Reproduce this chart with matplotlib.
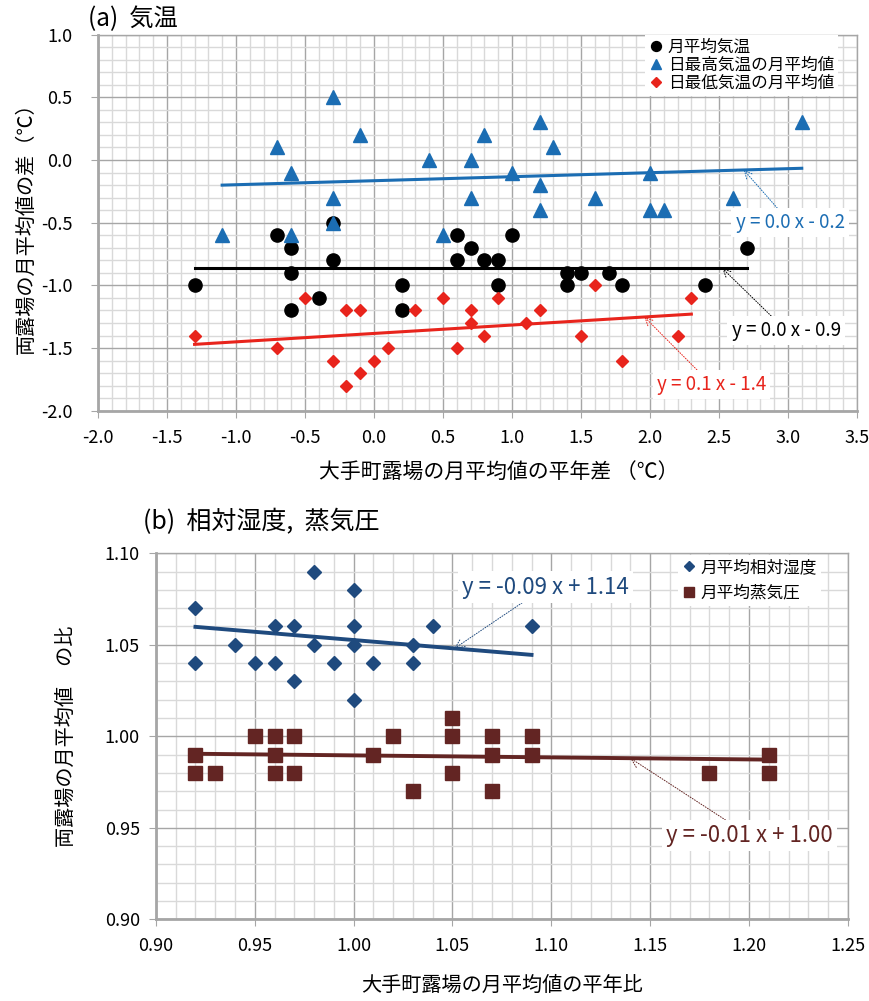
import numpy as np
import matplotlib.pyplot as plt
from matplotlib.ticker import MultipleLocator, FormatStrFormatter

plt.rcParams['font.family'] = ['Noto Sans CJK JP', 'DejaVu Sans']

#DATA (a) temperature: x = Otemachi anomaly, y = difference between sites
tavg_x = [-1.3, -0.7, -0.6, -0.6, -0.6, -0.4, -0.3, -0.3, 0.2, 0.2, 0.6, 0.6,
          0.7, 0.8, 0.9, 0.9, 1.0, 1.4, 1.4, 1.5, 1.7, 1.8, 2.4, 2.7]
tavg_y = [-1.0, -0.6, -0.7, -0.9, -1.2, -1.1, -0.5, -0.8, -1.0, -1.2, -0.6, -0.8,
          -0.7, -0.8, -0.8, -1.0, -0.6, -0.9, -1.0, -0.9, -0.9, -1.0, -1.0, -0.7]
tmax_x = [-1.1, -0.7, -0.6, -0.6, -0.3, -0.3, -0.3, -0.1, 0.4, 0.5, 0.7, 0.7,
          0.8, 1.0, 1.2, 1.2, 1.2, 1.3, 1.6, 2.0, 2.0, 2.1, 2.6, 3.1]
tmax_y = [-0.6, 0.1, -0.1, -0.6, 0.5, -0.3, -0.5, 0.2, 0.0, -0.6, 0.0, -0.3,
          0.2, -0.1, 0.3, -0.2, -0.4, 0.1, -0.3, -0.1, -0.4, -0.4, -0.3, 0.3]
tmin_x = [-1.3, -0.7, -0.5, -0.3, -0.2, -0.2, -0.1, -0.1, 0.0, 0.1, 0.3, 0.5,
          0.6, 0.7, 0.7, 0.8, 0.9, 1.1, 1.2, 1.5, 1.6, 1.8, 2.2, 2.3]
tmin_y = [-1.4, -1.5, -1.1, -1.6, -1.8, -1.2, -1.2, -1.7, -1.6, -1.5, -1.2, -1.1,
          -1.5, -1.2, -1.3, -1.4, -1.1, -1.3, -1.2, -1.4, -1.0, -1.6, -1.4, -1.1]
names_a = ['月平均気温', '日最高気温の月平均値', '日最低気温の月平均値']
eq_a = ['y = 0.0 x - 0.9', 'y = 0.0 x - 0.2', 'y = 0.1 x - 1.4']
# trend lines (slope, intercept)
fit_avg = [0.0, -0.864]
fit_max = [0.032, -0.165]
fit_min = [0.067, -1.383]

#DATA (b) humidity / vapour pressure ratios
rh_x = [0.92, 0.92, 0.94, 0.95, 0.96, 0.96, 0.97, 0.97, 0.98, 0.98,
        0.99, 1.00, 1.00, 1.00, 1.00, 1.01, 1.03, 1.03, 1.04, 1.09]
rh_y = [1.07, 1.04, 1.05, 1.04, 1.06, 1.04, 1.06, 1.03, 1.09, 1.05,
        1.04, 1.08, 1.06, 1.05, 1.02, 1.04, 1.05, 1.04, 1.06, 1.06]
vp_x = [0.92, 0.92, 0.93, 0.95, 0.96, 0.96, 0.96, 0.97, 0.97, 1.01, 1.02, 1.03,
        1.05, 1.05, 1.05, 1.07, 1.07, 1.07, 1.09, 1.09, 1.18, 1.21, 1.21]
vp_y = [0.99, 0.98, 0.98, 1.00, 1.00, 0.99, 0.98, 1.00, 0.98, 0.99, 1.00, 0.97,
        1.01, 1.00, 0.98, 1.00, 0.99, 0.97, 1.00, 0.99, 0.98, 0.99, 0.98]
names_b = ['月平均相対湿度', '月平均蒸気圧']
eq_b = ['y = -0.09 x + 1.14', 'y = -0.01 x + 1.00']
fit_rh = [-0.09, 1.1426]
fit_vp = [-0.011, 1.0006]

#STYLE
c_black, c_blue, c_red = 'black', '#1b6db3', '#e8241c'
c_navy, c_brown = '#1f4a7e', '#632523'
grid_major, grid_minor, spine_col = '#a6a6a6', '#d9d9d9', '#a6a6a6'


def style_axes(ax, major_x, minor_x, major_y, minor_y, fmt_x, fmt_y, ypad):
    ax.xaxis.set_major_locator(MultipleLocator(major_x))
    ax.xaxis.set_minor_locator(MultipleLocator(minor_x))
    ax.yaxis.set_major_locator(MultipleLocator(major_y))
    ax.yaxis.set_minor_locator(MultipleLocator(minor_y))
    ax.xaxis.set_major_formatter(FormatStrFormatter(fmt_x))
    ax.yaxis.set_major_formatter(FormatStrFormatter(fmt_y))
    ax.grid(which='minor', color=grid_minor, lw=1.0)
    ax.grid(which='major', color=grid_major, lw=1.0)
    ax.set_axisbelow(True)
    for s in ax.spines.values():
        s.set_color(spine_col)
        s.set_linewidth(1.0)
    ax.spines['bottom'].set_linewidth(2.0)
    ax.spines['left'].set_linewidth(2.0)
    ax.tick_params(which='major', length=5, color=spine_col, labelsize=13)
    ax.tick_params(axis='x', which='major', pad=8)
    ax.tick_params(axis='y', which='major', pad=ypad)
    ax.tick_params(which='minor', length=0)


def trend(ax, x, fit, color, lw=2.2):
    xs = np.array([min(x), max(x)])
    ax.plot(xs, fit[0] * xs + fit[1], color=color, lw=lw, zorder=3)


def eq_label(ax, fit, tip_x, pos, text, color, size):
    ax.annotate(text, xy=(tip_x, fit[0] * tip_x + fit[1]), xytext=pos,
                ha='center', va='center', color=color, fontsize=size, zorder=6,
                bbox=dict(fc='white', ec='none', pad=3),
                arrowprops=dict(arrowstyle='->', color=color, lw=0.7,
                                linestyle=':', shrinkA=0, shrinkB=0))


def legend(ax, anchor, spacing, scale):
    leg = ax.legend(loc='upper right', bbox_to_anchor=anchor, fontsize=12,
                    frameon=True, fancybox=False, handlelength=0.8,
                    handletextpad=0.3, borderpad=0.25, labelspacing=spacing,
                    borderaxespad=0.0, markerscale=scale)
    leg.get_frame().set_edgecolor('none')
    leg.get_frame().set_alpha(1.0)


fig = plt.figure(figsize=(8.7, 10.01), dpi=100)

#(a)
ax1 = fig.add_axes([0.1126, 0.5896, 0.8724, 0.3758])
ax1.plot(tavg_x, tavg_y, 'o', color=c_black, ms=9.5, label=names_a[0], zorder=4)
ax1.plot(tmax_x, tmax_y, '^', color=c_blue, ms=9.5, label=names_a[1], zorder=4)
ax1.plot(tmin_x, tmin_y, 'D', color=c_red, ms=6.5, label=names_a[2], zorder=4)
trend(ax1, tavg_x, fit_avg, c_black)
trend(ax1, tmax_x, fit_max, c_blue)
trend(ax1, tmin_x, fit_min, c_red)
ax1.set_xlim(-2.0, 3.5)
ax1.set_ylim(-2.0, 1.0)
style_axes(ax1, 0.5, 0.1, 0.5, 0.1, '%.1f', '%.1f', 13.5)
eq_label(ax1, fit_max, 2.68, (3.016, -0.50), eq_a[1], c_blue, 13.5)
eq_label(ax1, fit_avg, 2.525, (2.987, -1.36), eq_a[0], c_black, 13.5)
eq_label(ax1, fit_min, 1.96, (2.446, -1.79), eq_a[2], c_red, 13.5)
ax1.set_xlabel('大手町露場の月平均値の平年差 （℃）', fontsize=15, labelpad=10, x=0.528)
ax1.set_ylabel('両露場の月平均値の差（℃）', fontsize=14.5, labelpad=3)
fig.text(88 / 870, 1 - 19 / 1001, '(a)  気温', fontsize=17.5, ha='left', va='center')
legend(ax1, (0.975, 1.0), 0.05, 0.75)

#(b)
ax2 = fig.add_axes([0.1792, 0.0815, 0.7953, 0.3658])
ax2.plot(rh_x, rh_y, 'D', color=c_navy, ms=7, label=names_b[0], zorder=4)
ax2.plot(vp_x, vp_y, 's', color=c_brown, ms=9.5, label=names_b[1], zorder=4)
trend(ax2, rh_x, fit_rh, c_navy, lw=2.8)
trend(ax2, vp_x, fit_vp, c_brown, lw=2.8)
ax2.set_xlim(0.90, 1.25)
ax2.set_ylim(0.90, 1.10)
style_axes(ax2, 0.05, 0.01, 0.05, 0.01, '%.2f', '%.2f', 6.5)
eq_label(ax2, fit_rh, 1.051, (1.097, 1.0815), eq_b[0], c_navy, 16)
eq_label(ax2, fit_vp, 1.140, (1.2004, 0.9457), eq_b[1], c_brown, 16)
ax2.set_xlabel('大手町露場の月平均値の平年比', fontsize=14.5, labelpad=14)
ax2.set_ylabel('両露場の月平均値　の比', fontsize=14.5, labelpad=20)
fig.text(143 / 870, 1 - 522 / 1001, '(b)  相対湿度,  蒸気圧', fontsize=18,
         ha='left', va='center')
legend(ax2, (0.961, 0.995), 0.5, 0.7)

plt.savefig('out.png', dpi=100)
